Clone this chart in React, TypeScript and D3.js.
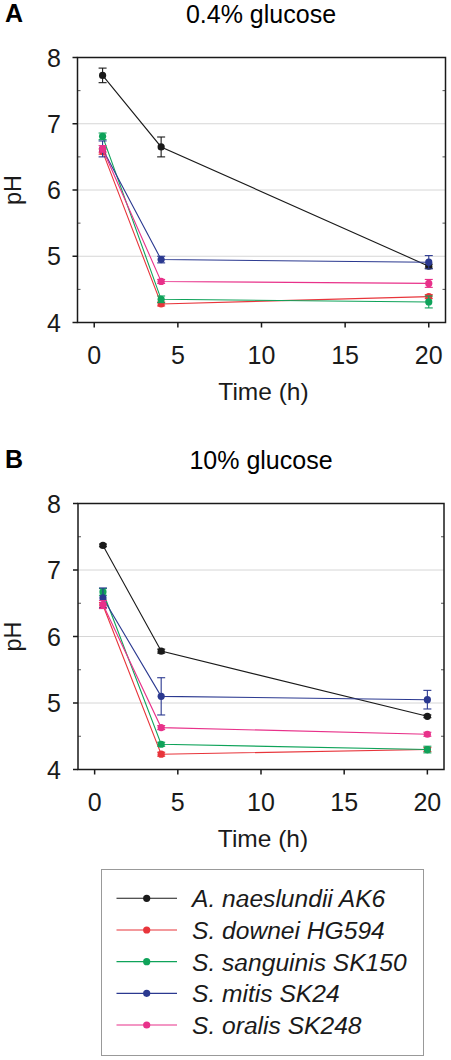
import React from "react";
import * as d3 from "d3";

const times = [0.5, 4, 20];
const seriesNames = [
  "A. naeslundii AK6",
  "S. downei HG594",
  "S. sanguinis SK150",
  "S. mitis SK24",
  "S. oralis SK248",
];
const seriesColors = ["#1a1a1a", "#e8353b", "#0fa35a", "#2b3990", "#e8318a"];

// Panel A: 0.4% glucose
const naeslundiiA = [7.73, 6.65, 4.85];
const naeslundiiAErr = [0.11, 0.15, 0.03];
const downeiA = [6.58, 4.28, 4.39];
const downeiAErr = [0.04, 0.03, 0.03];
const sanguinisA = [6.81, 4.35, 4.31];
const sanguinisAErr = [0.05, 0.05, 0.09];
const mitisA = [6.62, 4.95, 4.91];
const mitisAErr = [0.12, 0.05, 0.1];
const oralisA = [6.62, 4.62, 4.59];
const oralisAErr = [0.05, 0.03, 0.06];

// Panel B: 10% glucose
const naeslundiiB = [7.37, 5.78, 4.8];
const naeslundiiBErr = [0.02, 0.03, 0.02];
const downeiB = [6.47, 4.23, 4.3];
const downeiBErr = [0.04, 0.03, 0.03];
const sanguinisB = [6.67, 4.38, 4.3];
const sanguinisBErr = [0.05, 0.03, 0.05];
const mitisB = [6.58, 5.1, 5.05];
const mitisBErr = [0.15, 0.28, 0.14];
const oralisB = [6.48, 4.63, 4.53];
const oralisBErr = [0.06, 0.03, 0.03];

const xTicks = [0, 5, 10, 15, 20];
const yTicks = [4, 5, 6, 7, 8];
const yMinor = [4.5, 5.5, 6.5, 7.5];
const gridValues = [5, 6, 7];

const FONT = "'Liberation Sans', Arial, Helvetica, sans-serif";

type Panel = {
  letter: string;
  title: string;
  top: number;
  bottom: number;
  left: number;
  right: number;
  values: number[][];
  errors: number[][];
};

const panels: Panel[] = [
  {
    letter: "A",
    title: "0.4% glucose",
    top: 57.5,
    bottom: 322.5,
    left: 77.5,
    right: 445.5,
    values: [naeslundiiA, downeiA, sanguinisA, mitisA, oralisA],
    errors: [naeslundiiAErr, downeiAErr, sanguinisAErr, mitisAErr, oralisAErr],
  },
  {
    letter: "B",
    title: "10% glucose",
    top: 503.5,
    bottom: 769.5,
    left: 78,
    right: 444,
    values: [naeslundiiB, downeiB, sanguinisB, mitisB, oralisB],
    errors: [naeslundiiBErr, downeiBErr, sanguinisBErr, mitisBErr, oralisBErr],
  },
];

function PanelChart({ p }: { p: Panel }) {
  const x = d3.scaleLinear().domain([-1, 21]).range([p.left, p.right]);
  const y = d3.scaleLinear().domain([4, 8]).range([p.bottom, p.top]);
  const line = d3
    .line<number>()
    .x((_, i) => x(times[i]))
    .y((d) => y(d));
  const cx = (p.left + p.right) / 2 - 2;
  return (
    <g>
      <text x={5} y={p.top - 35.5} fontSize={25} fontWeight="bold" fontFamily={FONT}>
        {p.letter}
      </text>
      <text x={261} y={p.top - 34.5} fontSize={25} textAnchor="middle" fontFamily={FONT}>
        {p.title}
      </text>
      {gridValues.map((v) => (
        <line key={"g" + v} x1={p.left} x2={p.right} y1={y(v)} y2={y(v)} stroke="#d6d6d6" strokeWidth={1} />
      ))}
      {yMinor.map((v) => (
        <g key={"m" + v}>
          <line x1={p.left} x2={p.left + 3} y1={y(v)} y2={y(v)} stroke="#555" strokeWidth={1} />
          <line x1={p.right - 3} x2={p.right} y1={y(v)} y2={y(v)} stroke="#555" strokeWidth={1} />
        </g>
      ))}
      <rect x={p.left} y={p.top} width={p.right - p.left} height={p.bottom - p.top} fill="none" stroke="#1a1a1a" strokeWidth={1.5} />
      {yTicks.map((v) => (
        <g key={"y" + v}>
          <line x1={p.left - 5} x2={p.left} y1={y(v)} y2={y(v)} stroke="#1a1a1a" strokeWidth={1.5} />
          <text x={61} y={y(v)} dy="0.36em" fontSize={25} textAnchor="end" fontFamily={FONT} fill="#1a1a1a">
            {v}
          </text>
        </g>
      ))}
      {xTicks.map((v) => (
        <g key={"x" + v}>
          <line x1={x(v)} x2={x(v)} y1={p.bottom} y2={p.bottom + 5} stroke="#1a1a1a" strokeWidth={1.5} />
          <text x={x(v)} y={p.bottom + 41.5} fontSize={25} textAnchor="middle" fontFamily={FONT} fill="#1a1a1a">
            {v}
          </text>
        </g>
      ))}
      <text x={cx + 4} y={p.bottom + 77.5} fontSize={24.5} textAnchor="middle" fontFamily={FONT} fill="#1a1a1a">
        Time (h)
      </text>
      <text
        transform={`translate(21,${(p.top + p.bottom) / 2}) rotate(-90)`}
        fontSize={23.5}
        textAnchor="middle"
        fontFamily={FONT}
        fill="#1a1a1a"
      >
        pH
      </text>
      {p.values.map((vals, si) => (
        <g key={"s" + si}>
          <path d={line(vals) || ""} fill="none" stroke={seriesColors[si]} strokeWidth={1.1} />
          {vals.map((v, i) => {
            const e = p.errors[si][i];
            const px = x(times[i]);
            return (
              <g key={i}>
                <line x1={px} x2={px} y1={y(v - e)} y2={y(v + e)} stroke={seriesColors[si]} strokeWidth={1.1} />
                <line x1={px - 4} x2={px + 4} y1={y(v - e)} y2={y(v - e)} stroke={seriesColors[si]} strokeWidth={1.1} />
                <line x1={px - 4} x2={px + 4} y1={y(v + e)} y2={y(v + e)} stroke={seriesColors[si]} strokeWidth={1.1} />
                <circle cx={px} cy={y(v)} r={3.6} fill={seriesColors[si]} />
              </g>
            );
          })}
        </g>
      ))}
    </g>
  );
}

export default function App() {
  const legendTop = 869.5;
  const rowY = d3.scaleLinear().domain([0, 4]).range([898.3, 1025]);
  return (
    <svg width={451} height={1060} style={{ position: "absolute", left: 0, top: 0, background: "#fff" }}>
      <rect x={0} y={0} width={451} height={1060} fill="#fff" />
      {panels.map((p) => (
        <PanelChart key={p.letter} p={p} />
      ))}
      <rect x={101.5} y={legendTop} width={322} height={186} fill="none" stroke="#999" strokeWidth={1} />
      {seriesNames.map((name, i) => (
        <g key={name}>
          <line x1={116.5} x2={177} y1={rowY(i)} y2={rowY(i)} stroke={seriesColors[i]} strokeWidth={1.1} />
          <circle cx={146.7} cy={rowY(i)} r={3.6} fill={seriesColors[i]} />
          <text x={192} y={rowY(i)} dy="0.36em" fontSize={24.6} fontStyle="italic" fontFamily={FONT} fill="#1a1a1a">
            {name}
          </text>
        </g>
      ))}
    </svg>
  );
}
